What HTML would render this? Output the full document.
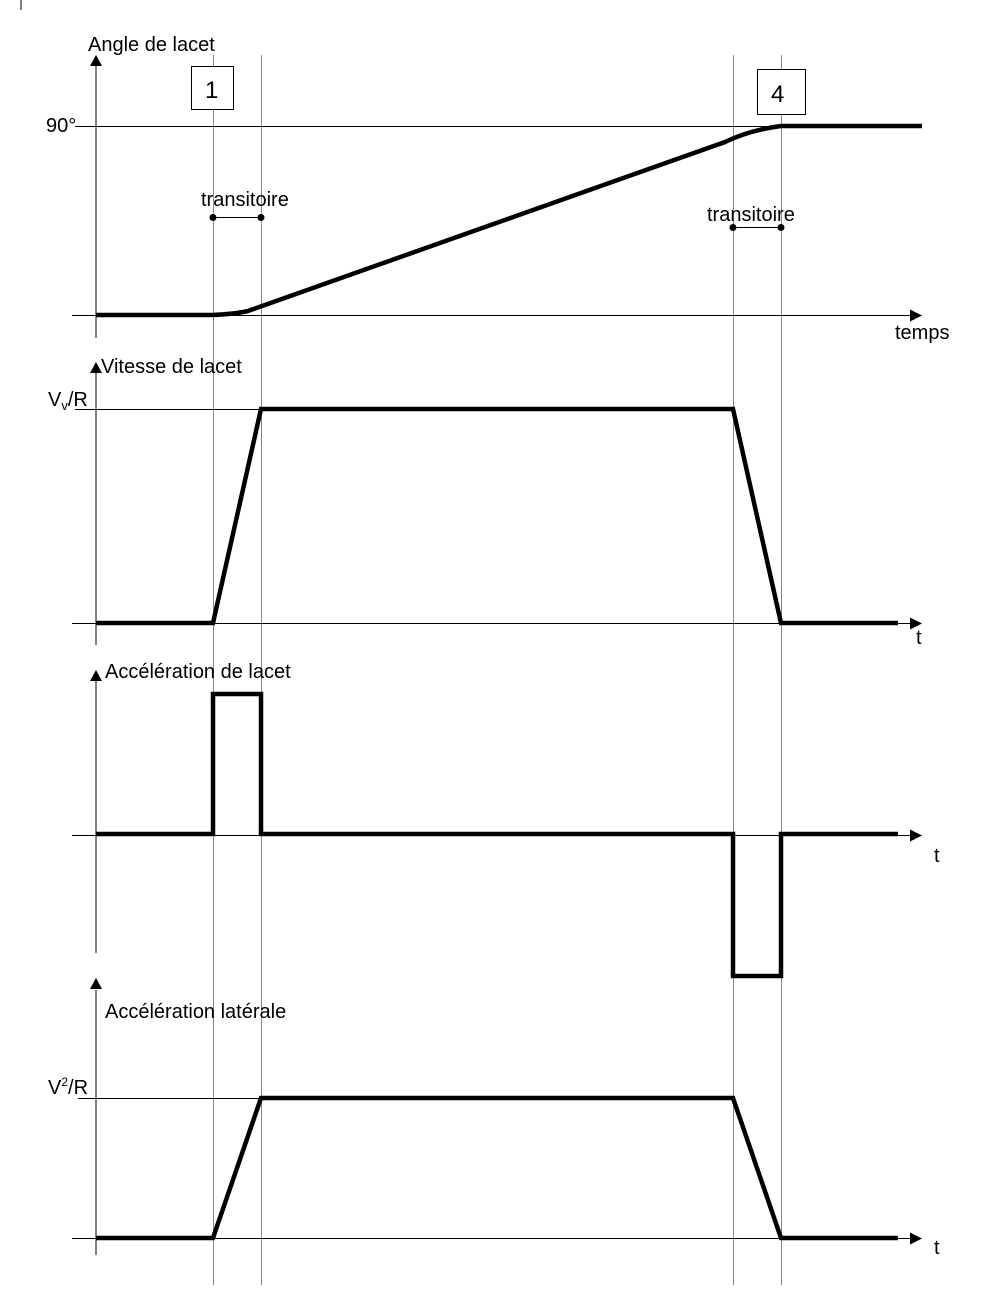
<!DOCTYPE html>
<html><head><meta charset="utf-8"><style>body{margin:0;background:#fff}svg{display:block}text{font-family:"Liberation Sans",sans-serif;fill:#000}</style></head><body>
<svg width="981" height="1316" viewBox="0 0 981 1316" xmlns="http://www.w3.org/2000/svg">
<line x1="21" y1="0" x2="21" y2="10" stroke="#000" stroke-width="1"/>
<g stroke="#888" stroke-width="1">
<line x1="213.5" y1="55" x2="213.5" y2="1285"/>
<line x1="261.5" y1="55" x2="261.5" y2="1285"/>
<line x1="733.5" y1="55" x2="733.5" y2="1285"/>
<line x1="781.5" y1="55" x2="781.5" y2="1285"/>
</g>
<g stroke="#000" stroke-width="1" fill="none">
<line x1="96" y1="64" x2="96" y2="338"/>
<line x1="72" y1="315.5" x2="910" y2="315.5"/>
<line x1="75" y1="126.5" x2="922" y2="126.5"/>
<line x1="96" y1="372" x2="96" y2="645"/>
<line x1="72" y1="623.5" x2="910" y2="623.5"/>
<line x1="75" y1="409.5" x2="735" y2="409.5"/>
<line x1="96" y1="680" x2="96" y2="953"/>
<line x1="72" y1="835.5" x2="910" y2="835.5"/>
<line x1="96" y1="990" x2="96" y2="1255"/>
<line x1="72" y1="1238.5" x2="910" y2="1238.5"/>
<line x1="78" y1="1098.5" x2="735" y2="1098.5"/>
<line x1="213" y1="217.5" x2="261" y2="217.5"/>
<line x1="733" y1="227.5" x2="781" y2="227.5"/>
</g>
<g fill="#000">
<polygon points="96,55 90,66 102,66"/>
<polygon points="96,362 90,373 102,373"/>
<polygon points="96,670 90,681 102,681"/>
<polygon points="96,978 90,989 102,989"/>
<polygon points="922,315.5 910,309.5 910,321.5"/>
<polygon points="922,623.5 910,617.5 910,629.5"/>
<polygon points="922,835.5 910,829.5 910,841.5"/>
<polygon points="922,1238.5 910,1232.5 910,1244.5"/>
<circle cx="213" cy="217.5" r="3.5"/><circle cx="261" cy="217.5" r="3.5"/>
<circle cx="733" cy="227.5" r="3.5"/><circle cx="781" cy="227.5" r="3.5"/>
</g>
<rect x="191.5" y="66.5" width="42" height="43" fill="#fff" stroke="#000"/>
<rect x="757.5" y="69.5" width="48" height="45" fill="#fff" stroke="#000"/>
<g stroke="#000" stroke-width="4.5" fill="none" stroke-linejoin="miter">
<path d="M96,315 L213,315 Q235,314 248,311 L725,142 Q750,130 781,126 L922,126"/>
<path d="M96,623 L213,623 L261,409 L733,409 L781,623 L898,623"/>
<path d="M96,834 L213,834 L213,694 L261,694 L261,834 L733,834 L733,976 L781,976 L781,834 L898,834"/>
<path d="M96,1238 L213,1238 L261,1098 L733,1098 L781,1238 L898,1238"/>
</g>
<g font-size="20">
<text x="88" y="51">Angle de lacet</text>
<text x="205" y="98" font-size="24">1</text>
<text x="771" y="102" font-size="24">4</text>
<text x="46" y="132">90°</text>
<text x="201" y="206">transitoire</text>
<text x="707" y="221">transitoire</text>
<text x="895" y="339">temps</text>
<text x="101" y="373">Vitesse de lacet</text>
<text x="48" y="406">V<tspan font-size="13" dy="4">v</tspan><tspan dy="-4">/R</tspan></text>
<text x="916" y="644">t</text>
<text x="105" y="678">Accélération de lacet</text>
<text x="934" y="862">t</text>
<text x="105" y="1018">Accélération latérale</text>
<text x="48" y="1094">V<tspan font-size="12" dy="-8">2</tspan><tspan dy="8">/R</tspan></text>
<text x="934" y="1254">t</text>
</g>
</svg>
</body></html>
